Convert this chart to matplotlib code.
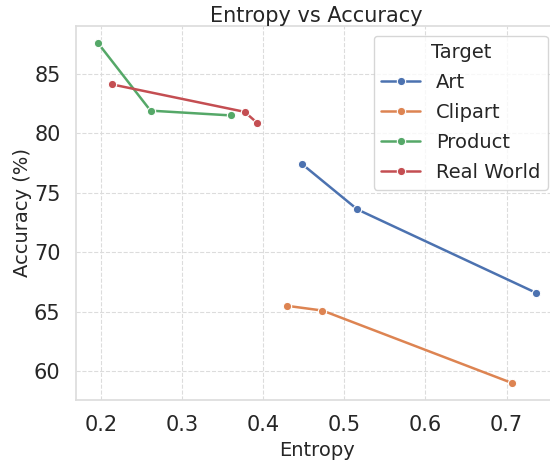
import matplotlib
matplotlib.use('Agg')
import numpy as np
import seaborn as sns
from matplotlib import pyplot as plt

# Dados (entropia x acurácia por domínio alvo)
targets = ['Art', 'Clipart', 'Product', 'Real World']
entropy_art = [0.448, 0.516, 0.736]
acc_art = [77.4, 73.6, 66.6]
entropy_clipart = [0.429, 0.473, 0.707]
acc_clipart = [65.5, 65.1, 59.0]
entropy_product = [0.196, 0.261, 0.360]
acc_product = [87.6, 81.9, 81.5]
entropy_real = [0.214, 0.377, 0.392]
acc_real = [84.1, 81.8, 80.9]

sns.set_theme(style='whitegrid')
colors = sns.color_palette('deep')

fig = plt.figure(figsize=(5.5, 4.61), dpi=100)
ax = fig.add_axes([0.138, 0.132, 0.876, 0.812])

series = [(entropy_art, acc_art), (entropy_clipart, acc_clipart),
          (entropy_product, acc_product), (entropy_real, acc_real)]
for i, (x, y) in enumerate(series):
    ax.plot(x, y, color=colors[i], lw=1.8, marker='o', ms=6,
            mec='white', mew=0.8, label=targets[i])

ax.grid(True, linestyle='--', color='#dcdcdc', lw=0.8)
for s in ax.spines.values():
    s.set_color('#dddddd')

ax.set_title('Entropy vs Accuracy', fontsize=15, pad=2.5)
ax.set_xlabel('Entropy', fontsize=14)
ax.set_ylabel('Accuracy (%)', fontsize=14, labelpad=1.5)
ax.tick_params(labelsize=15, pad=5)
ax.set_yticks([60, 65, 70, 75, 80, 85])

leg = ax.legend(title='Target', loc='upper right', fontsize=14,
                title_fontsize=14, labelspacing=0.56)

fig.savefig('out.png', dpi=100)
